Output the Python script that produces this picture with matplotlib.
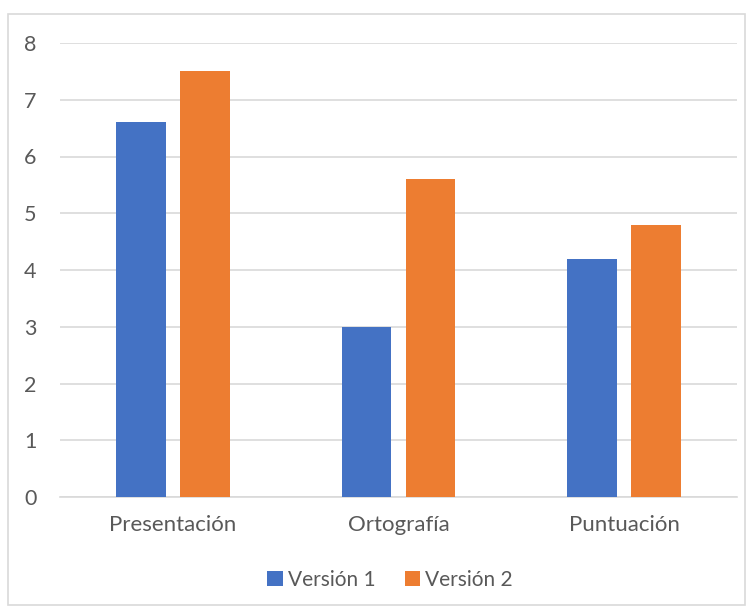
import matplotlib
matplotlib.use("Agg")
import matplotlib.pyplot as plt
from matplotlib.patches import Rectangle
import numpy as np

categories = ["Presentación", "Ortografía", "Puntuación"]
version_1 = [6.6, 3.0, 4.2]
version_2 = [7.5, 5.6, 4.8]
series_names = ["Versión 1", "Versión 2"]
yticks = [0, 1, 2, 3, 4, 5, 6, 7, 8]

blue = "#4472C4"
orange = "#ED7D31"
text_color = "#595959"
grid_color = "#D9D9D9"

plt.rcParams["font.family"] = ["Lato", "DejaVu Sans"]

fig = plt.figure(figsize=(7.51, 6.10), dpi=100)
ax = fig.add_axes([60 / 751, 1 - 497 / 610, 677 / 751, 454 / 610])

x = np.arange(len(categories))
width = 0.22
offset = 0.142
ax.bar(x - offset, version_1, width, color=blue, label=series_names[0], zorder=3)
ax.bar(x + offset, version_2, width, color=orange, label=series_names[1], zorder=3)

ax.set_xlim(-0.5, len(categories) - 0.5)
ax.set_ylim(0, 8)
ax.set_yticks(yticks)
ax.set_xticks(x)
ax.set_xticklabels(categories)
ax.yaxis.grid(True, color=grid_color, linewidth=1.2, zorder=0)
ax.set_axisbelow(True)
for side in ["top", "right", "left"]:
    ax.spines[side].set_visible(False)
ax.spines["bottom"].set_color(grid_color)
ax.spines["bottom"].set_linewidth(1.2)
ax.tick_params(axis="both", length=0, colors=text_color)
ax.tick_params(axis="x", pad=13, labelsize=16)
ax.tick_params(axis="y", pad=17, labelsize=15.5)

leg = fig.legend(loc="center", bbox_to_anchor=(390 / 751, 1 - 580 / 610), ncol=2,
                 frameon=False, fontsize=15, handlelength=0.75, handleheight=0.75,
                 handletextpad=0.25, columnspacing=1.4)
for t in leg.get_texts():
    t.set_color(text_color)

fig.patches.append(Rectangle((8 / 751, 1 - 605 / 610), 737 / 751, 591 / 610,
                             transform=fig.transFigure, fill=False,
                             edgecolor=grid_color, linewidth=1.2))

fig.savefig("out.png", dpi=100, facecolor="white")
